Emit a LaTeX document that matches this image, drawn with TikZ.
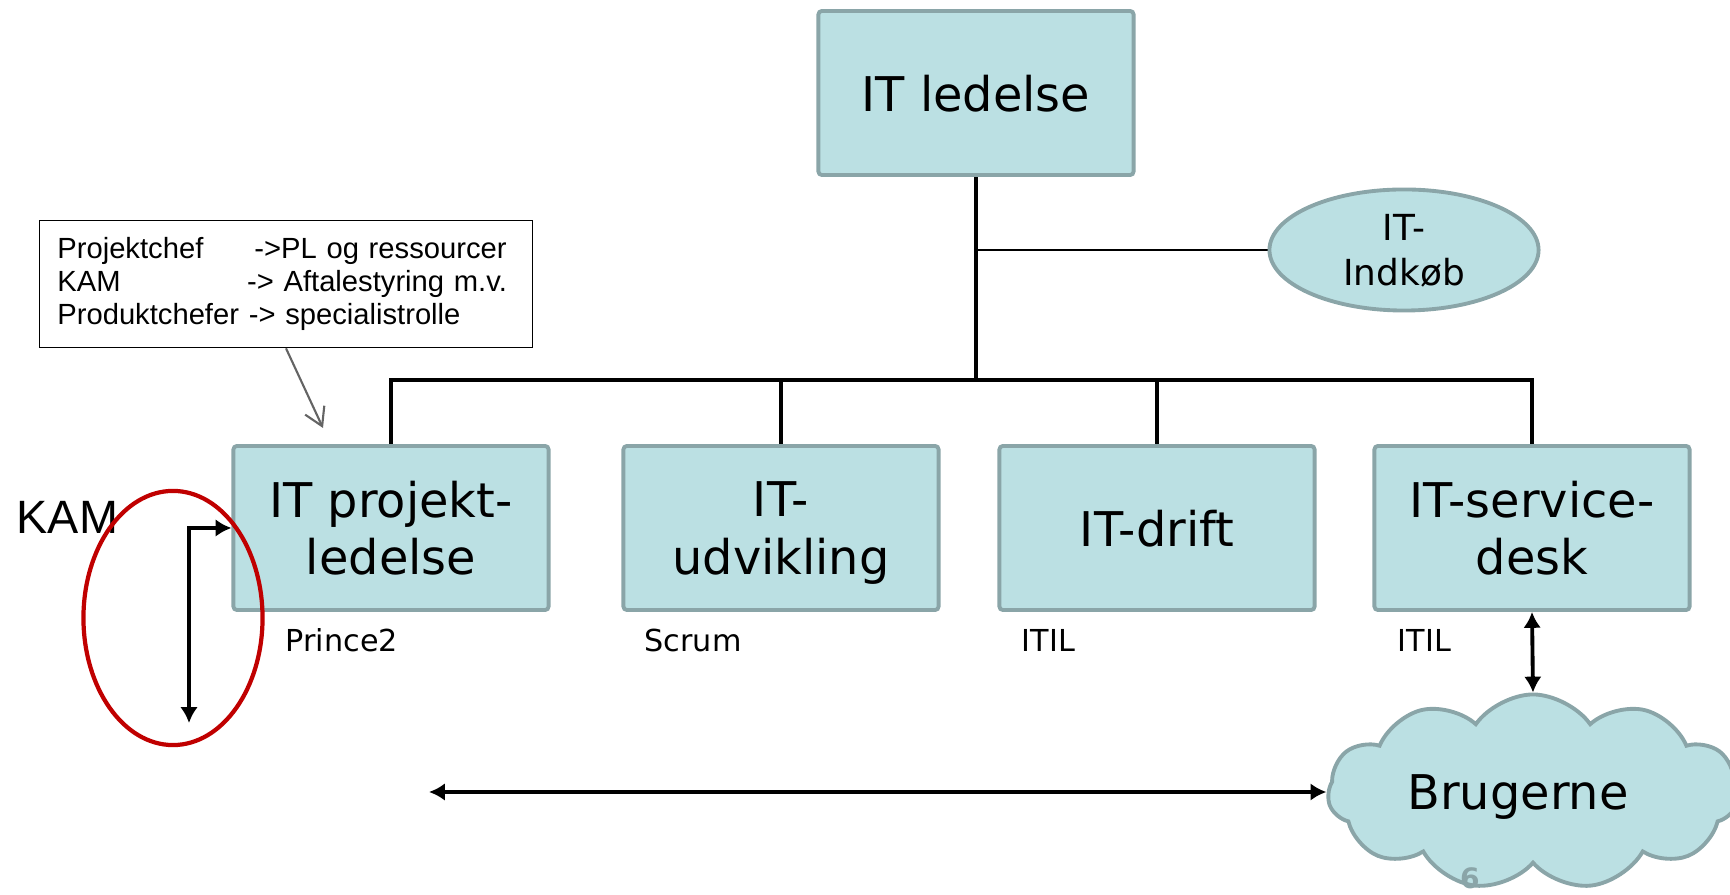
\documentclass[tikz,border=0pt]{standalone}
\usepackage{fontspec}
\setmainfont{DejaVu Sans}
\newfontfamily\notefont{Liberation Sans}
\usepackage{tikz}
\usetikzlibrary{backgrounds,arrows.meta,shapes.geometric,shapes.symbols}
\definecolor{xteal}{RGB}{187,224,227}
\definecolor{xedge}{RGB}{138,165,168}
\definecolor{xred}{RGB}{192,0,0}
\definecolor{xgrey}{RGB}{100,100,100}

\begin{document}
\begin{tikzpicture}[x=0.01cm, y=-0.01cm, >={Latex[length=4.5pt,width=5pt]},
  unit/.style={draw=xedge, fill=xteal, line width=1.1pt, rectangle, rounded corners=1pt, minimum width=3.15cm, minimum height=1.64cm, inner sep=0pt, align=center, text depth=0pt, font=\fontsize{13.6}{16.4}\selectfont},
  tag/.style={anchor=base west, inner sep=0pt, font=\fontsize{8.6}{10}\selectfont},
  wire/.style={line width=1.1pt}]
\useasboundingbox (0,0) rectangle (1730,895);
\def \r {528}
% top and second row
\node[unit] at (976,93) (ledelse) {IT ledelse};
\node[draw=xedge, fill=xteal, line width=1.1pt, ellipse, minimum width=2.69cm, minimum height=1.21cm, inner sep=0pt, align=center, text depth=0pt, font=\fontsize{10.2}{12.7}\selectfont] at (1404,250) (indkob) {IT-\\Indkøb};
\node[unit] at (391,\r) (proj) {IT projekt-\\ledelse};
\node[unit] at (781,\r) (udv) {IT-\\udvikling};
\node[unit] at (1157,\r) (drift) {IT-drift};
\node[unit] at (1532,\r) (service) {IT-service-\\desk};
\node[tag] at (285,652) (prince) {Prince2};
\node[tag] at (644,652) (scrum) {Scrum};
\node[tag] at (1021,652) (itil1) {ITIL};
\node[tag] at (1397,652) (itil2) {ITIL};
\coordinate (bus) at (976,380);
\begin{scope}[on background layer]
\draw[wire] (ledelse.south) -- (bus);
\draw[line width=0.45pt] (ledelse.south |- indkob.west) -- (indkob.west);
\draw[wire] (proj.north) -- (proj.north |- bus) -- (service.north |- bus) -- (service.north);
\draw[wire] (udv.north) -- (udv.north |- bus);
\draw[wire] (drift.north) -- (drift.north |- bus);
\end{scope}
% users
\node[cloud, cloud puffs=11, cloud puff arc=110, cloud ignores aspect, draw=xedge, fill=xteal, line width=1.1pt, minimum width=4.1cm, minimum height=1.95cm, inner sep=0pt, text depth=0pt, font=\fontsize{13.6}{16.4}\selectfont] at (1533,792) (brugerne) {\hspace*{-0.3cm}Brugerne};
\node[text=xedge, inner sep=0pt, font=\bfseries\fontsize{8}{8}\selectfont] at (1470,878) (slide) {6};
\draw[<->, line width=1.1pt] (service.south) -- (brugerne.north);
\coordinate (lineend) at (429,792);
\draw[<->, line width=1.1pt] (lineend) -- (brugerne.west);
% note and KAM
\node[draw, line width=0.45pt, rectangle, minimum width=4.93cm, minimum height=1.27cm, inner xsep=0.18cm, text width=4.57cm, align=left, font=\notefont\fontsize{8.3}{9.35}\selectfont] at (286,284) (note) {\makebox[6.75em][l]{Projektchef}->PL og ressourcer\\\makebox[6.5em][l]{KAM}-> Aftalestyring m.v.\\Produktchefer -> specialistrolle};
\coordinate (pointer) at (323,428);
\draw[xgrey, line width=0.6pt, -{Straight Barb[length=5pt,width=6pt]}] (note.south) -- (pointer);
\node[anchor=base west, inner sep=0pt, font=\notefont\fontsize{13.3}{16}\selectfont] at (16,534) (kam) {KAM};
\node[draw=xred, line width=1.2pt, ellipse, minimum width=1.79cm, minimum height=2.54cm, inner sep=0pt] at (173,618) (ring) {};
\coordinate (kamend) at (189,723);
\draw[<->, line width=0.95pt] (kamend) |- (proj.west);
\end{tikzpicture}
\end{document}
